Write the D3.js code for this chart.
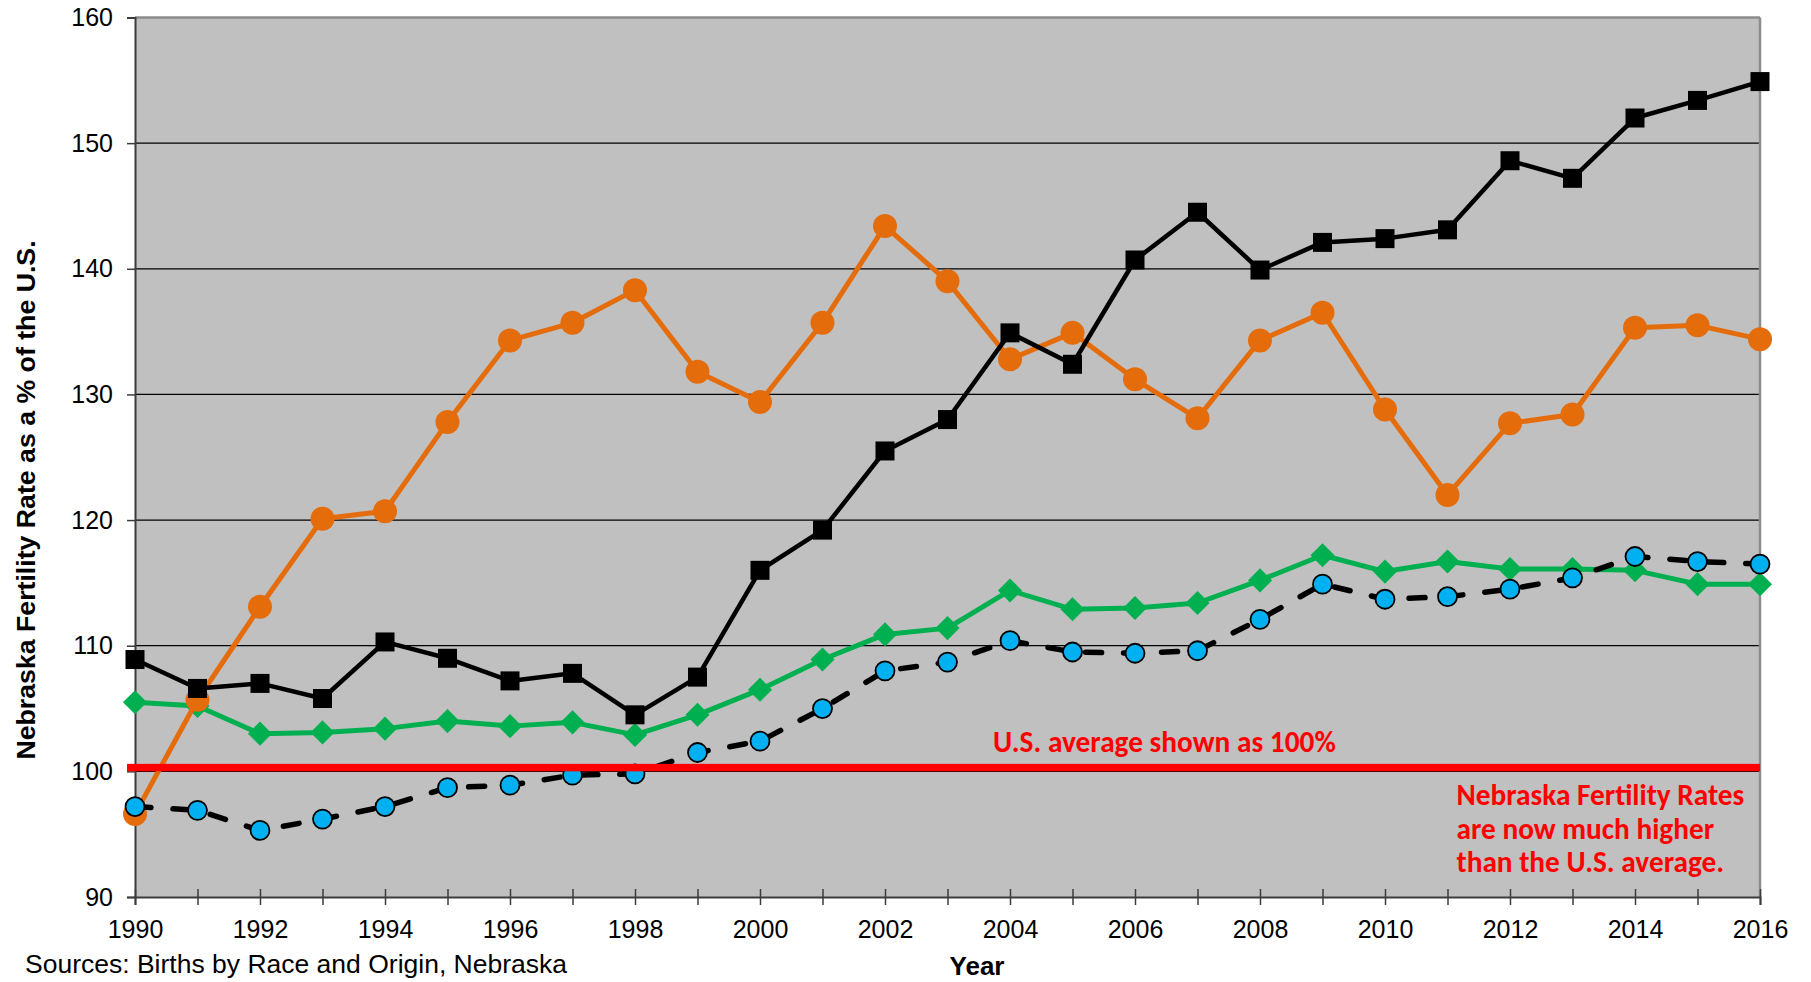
<!DOCTYPE html>
<html>
<head>
<meta charset="utf-8">
<script src="https://cdn.jsdelivr.net/npm/d3@7"></script>
<style>
  body { margin: 0; background: #ffffff; }
  svg { display: block; }
</style>
</head>
<body>
<svg id="chart" width="1811" height="982"></svg>
<script>
// ---- data ----
const years = [1990, 1991, 1992, 1993, 1994, 1995, 1996, 1997, 1998, 1999, 2000, 2001, 2002,
               2003, 2004, 2005, 2006, 2007, 2008, 2009, 2010, 2011, 2012, 2013, 2014, 2015, 2016];

const blackSquares = [108.9, 106.6, 107.0, 105.8, 110.3, 109.0, 107.2, 107.8, 104.5, 107.5, 116.0, 119.2, 125.5,
                      128.0, 134.9, 132.4, 140.7, 144.5, 139.9, 142.1, 142.4, 143.1, 148.6, 147.2, 152.0, 153.4, 154.9];

const orangeCircles = [96.6, 105.7, 113.1, 120.1, 120.7, 127.8, 134.3, 135.7, 138.3, 131.8, 129.4, 135.7, 143.4,
                       139.0, 132.8, 134.9, 131.2, 128.1, 134.3, 136.5, 128.8, 122.0, 127.7, 128.4, 135.3, 135.5, 134.4];

const greenDiamonds = [105.5, 105.2, 103.0, 103.1, 103.4, 104.0, 103.6, 103.9, 102.9, 104.5, 106.5, 108.9, 110.9,
                       111.4, 114.4, 112.9, 113.0, 113.4, 115.2, 117.2, 115.9, 116.7, 116.1, 116.1, 116.0, 114.9, 114.9];

const blueCircles = [97.2, 96.9, 95.3, 96.2, 97.2, 98.7, 98.9, 99.7, 99.8, 101.5, 102.4, 105.0, 108.0,
                     108.7, 110.4, 109.5, 109.4, 109.6, 112.1, 114.9, 113.7, 113.9, 114.5, 115.4, 117.1, 116.7, 116.5];

const yTicks = [90, 100, 110, 120, 130, 140, 150, 160];
const xLabelYears = [1990, 1992, 1994, 1996, 1998, 2000, 2002, 2004, 2006, 2008, 2010, 2012, 2014, 2016];
const usAverage = 100;

const yTitle = "Nebraska Fertility Rate as a % of the U.S.";
const xTitle = "Year";
const sourceNote = "Sources: Births by Race and Origin, Nebraska";
const averageNote = "U.S. average shown as 100%";
const summaryNote = ["Nebraska Fertility Rates", "are now much higher", "than the U.S. average."];

// ---- layout ----
const svg = d3.select("#chart");
const plot = { left: 135, right: 1760, top: 17.5, bottom: 897 };

const x = d3.scaleLinear().domain([1990, 2016]).range([plot.left, plot.right]);
const y = d3.scaleLinear().domain([90, 160]).range([plot.bottom, plot.top]);

const axisFont = "'Liberation Sans', Arial, sans-serif";
const noteFont = "Carlito, Calibri, Lato, sans-serif";

// plot background
svg.append("rect")
  .attr("x", plot.left).attr("y", plot.top)
  .attr("width", plot.right - plot.left).attr("height", plot.bottom - plot.top)
  .attr("fill", "#c0c0c0");

// horizontal gridlines
svg.append("g")
  .selectAll("line")
  .data(yTicks.filter(v => v > 90 && v < 160))
  .join("line")
  .attr("x1", plot.left).attr("x2", plot.right)
  .attr("y1", d => y(d)).attr("y2", d => y(d))
  .attr("stroke", "#000").attr("stroke-width", 1.2);

// frame: top and right edges
svg.append("line")
  .attr("x1", plot.left).attr("x2", plot.right)
  .attr("y1", plot.top).attr("y2", plot.top)
  .attr("stroke", "#8c8c8c").attr("stroke-width", 2.5);
svg.append("line")
  .attr("x1", plot.right).attr("x2", plot.right)
  .attr("y1", plot.top).attr("y2", plot.bottom)
  .attr("stroke", "#8c8c8c").attr("stroke-width", 2.5);

// y axis
const yAxis = svg.append("g")
  .attr("transform", `translate(${plot.left},0)`)
  .call(d3.axisLeft(y).tickValues(yTicks).tickSize(8).tickPadding(14).tickFormat(d3.format("d")));
yAxis.select(".domain").attr("stroke", "#3c3c3c").attr("stroke-width", 2);
yAxis.selectAll(".tick line").attr("stroke", "#3c3c3c").attr("stroke-width", 1.5);
yAxis.selectAll(".tick text")
  .attr("font-family", axisFont).attr("font-size", 25).attr("fill", "#000");

// x axis with crossing ticks every year, labels every other year
const xAxis = svg.append("g")
  .attr("transform", `translate(0,${plot.bottom})`)
  .call(d3.axisBottom(x).tickValues(years).tickSize(8).tickPadding(15)
    .tickFormat(d => xLabelYears.includes(d) ? String(d) : ""));
xAxis.select(".domain").attr("stroke", "#3c3c3c").attr("stroke-width", 2);
xAxis.selectAll(".tick line").attr("y1", -8).attr("y2", 8)
  .attr("stroke", "#3c3c3c").attr("stroke-width", 1.5);
xAxis.selectAll(".tick text")
  .attr("font-family", axisFont).attr("font-size", 25).attr("fill", "#000");

// axis titles and source note
svg.append("text")
  .attr("transform", "translate(26,500) rotate(-90)")
  .attr("text-anchor", "middle").attr("dominant-baseline", "central")
  .attr("font-family", axisFont).attr("font-weight", "bold").attr("font-size", 26.7)
  .text(yTitle);

svg.append("text")
  .attr("x", 977).attr("y", 975)
  .attr("text-anchor", "middle")
  .attr("font-family", axisFont).attr("font-weight", "bold").attr("font-size", 26)
  .text(xTitle);

svg.append("text")
  .attr("x", 25).attr("y", 973)
  .attr("font-family", axisFont).attr("font-size", 26.5)
  .text(sourceNote);

// ---- series ----
const line = d3.line().x((d, i) => x(years[i])).y(d => y(d));

// green diamonds
svg.append("path").datum(greenDiamonds)
  .attr("d", line).attr("fill", "none")
  .attr("stroke", "#00b050").attr("stroke-width", 5).attr("stroke-linejoin", "round");
svg.append("g").selectAll("path")
  .data(greenDiamonds)
  .join("path")
  .attr("d", d3.symbol(d3.symbolSquare, 290)())
  .attr("transform", (d, i) => `translate(${x(years[i])},${y(d)}) rotate(45)`)
  .attr("fill", "#00b050");

// orange circles
svg.append("path").datum(orangeCircles)
  .attr("d", line).attr("fill", "none")
  .attr("stroke", "#e46c0a").attr("stroke-width", 5).attr("stroke-linejoin", "round");
svg.append("g").selectAll("circle")
  .data(orangeCircles)
  .join("circle")
  .attr("cx", (d, i) => x(years[i])).attr("cy", d => y(d)).attr("r", 12)
  .attr("fill", "#e46c0a");

// black squares
svg.append("path").datum(blackSquares)
  .attr("d", line).attr("fill", "none")
  .attr("stroke", "#000").attr("stroke-width", 4.5).attr("stroke-linejoin", "round");
svg.append("g").selectAll("path")
  .data(blackSquares)
  .join("path")
  .attr("d", d3.symbol(d3.symbolSquare, 19 * 19)())
  .attr("transform", (d, i) => `translate(${x(years[i])},${y(d)})`)
  .attr("fill", "#000");

// blue circles on a dashed black line
svg.append("path").datum(blueCircles)
  .attr("d", line).attr("fill", "none")
  .attr("stroke", "#000").attr("stroke-width", 5.5)
  .attr("stroke-dasharray", "16,22").attr("stroke-linecap", "round");
svg.append("g").selectAll("circle")
  .data(blueCircles)
  .join("circle")
  .attr("cx", (d, i) => x(years[i])).attr("cy", d => y(d)).attr("r", 9.5)
  .attr("fill", "#00b0f0").attr("stroke", "#000").attr("stroke-width", 1.8);

// ---- U.S. average reference bar ----
svg.append("rect")
  .attr("x", plot.left - 8).attr("y", y(usAverage) - 7.5)
  .attr("width", plot.right - plot.left + 8).attr("height", 7.5)
  .attr("fill", "#ff0000");

// ---- red notes ----
function fitWidth(sel, target) {
  const w = sel.node().getComputedTextLength();
  const fs = parseFloat(sel.attr("font-size"));
  sel.attr("font-size", fs * target / w);
  return fs * target / w;
}

const avgText = svg.append("text")
  .attr("x", 993).attr("y", 751.5)
  .attr("font-family", noteFont).attr("font-weight", "bold").attr("font-size", 28)
  .attr("fill", "#ff0000")
  .text(averageNote);
fitWidth(avgText, 343);

const summary = svg.append("g");
const firstLine = summary.append("text")
  .attr("x", 1456.5).attr("y", 805)
  .attr("font-family", noteFont).attr("font-weight", "bold").attr("font-size", 23)
  .attr("fill", "#ff0000")
  .text(summaryNote[0]);
const fs = fitWidth(firstLine, 288);
const baselines = [805, 839, 872];
summaryNote.slice(1).forEach((t, i) => {
  summary.append("text")
    .attr("x", 1456.5).attr("y", baselines[i + 1])
    .attr("font-family", noteFont).attr("font-weight", "bold").attr("font-size", fs)
    .attr("fill", "#ff0000")
    .text(t);
});
</script>
</body>
</html>
